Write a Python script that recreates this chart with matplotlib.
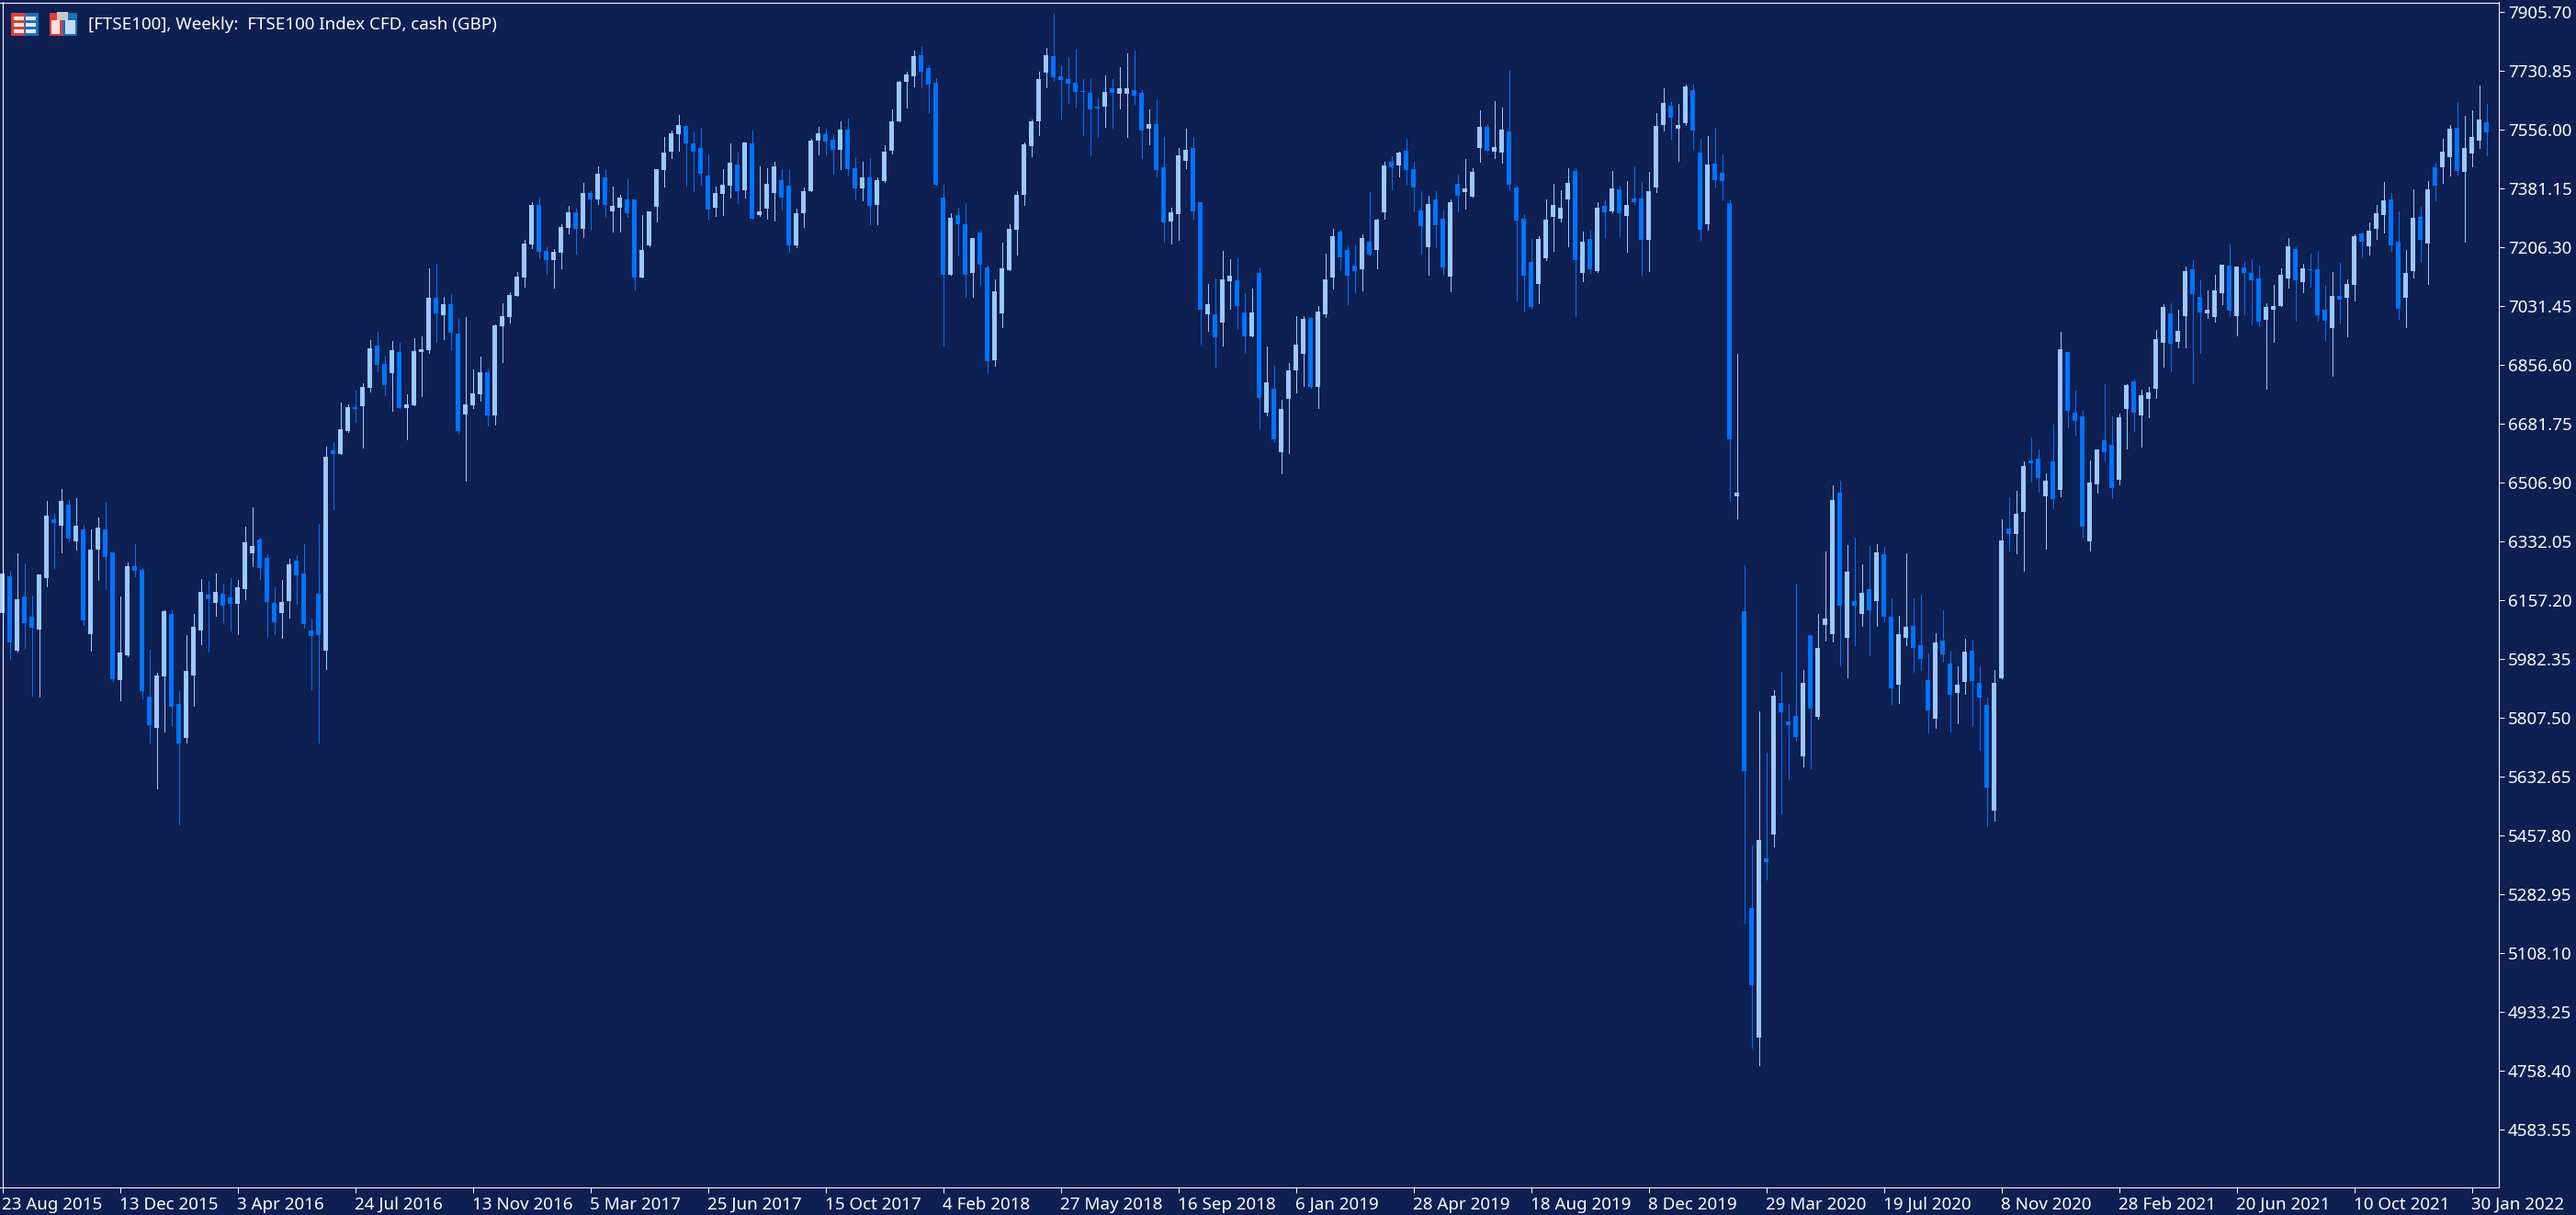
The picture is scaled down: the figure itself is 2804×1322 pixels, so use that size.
import matplotlib
matplotlib.use('Agg')
import matplotlib.pyplot as plt
from matplotlib.patches import Rectangle

# weekly FTSE100 candles, oldest first
highs = [
  6247,6245,6297,6267,6171,6234,6452,6414,6488,6455,6461,6381,6368,6403,6447,6299,6168,6269,6324,6253,6010,5941,6127,6127,5887,6053,6116,6220,6215,6237,
  6206,6223,6217,6376,6433,6343,6294,6195,6217,6280,6291,6324,6103,6384,6614,6627,6745,6739,6780,6802,6930,6955,6884,6928,6922,6769,6936,6941,7144,7158,
  7059,7067,6993,6999,6843,6881,6846,6977,7040,7073,7133,7228,7340,7354,7207,7201,7275,7329,7321,7398,7373,7447,7439,7387,7362,7409,7349,7302,7313,7439,
  7534,7554,7600,7567,7551,7562,7483,7387,7439,7515,7488,7518,7554,7447,7442,7461,7439,7436,7321,7384,7529,7565,7559,7543,7581,7589,7474,7461,7472,7414,
  7509,7616,7701,7728,7791,7802,7747,7709,7392,7307,7324,7337,7233,7255,7151,7110,7220,7274,7373,7517,7586,7728,7799,7900,7747,7772,7793,7706,7706,7649,
  7717,7707,7742,7782,7791,7673,7616,7644,7534,7323,7502,7559,7534,7340,7097,7114,7195,7171,7174,7069,7083,7146,6912,6854,6753,6862,7001,7001,6998,7032,
  7187,7261,7258,7212,7212,7244,7370,7291,7460,7477,7490,7529,7460,7373,7359,7373,7316,7348,7422,7469,7441,7613,7572,7641,7622,7731,7389,7305,7231,7239,
  7348,7395,7376,7441,7441,7253,7258,7340,7346,7433,7389,7403,7447,7400,7430,7605,7679,7641,7633,7690,7690,7529,7537,7561,7482,7346,6889,
  6261,5427,5827,5703,5889,5944,5849,6207,5950,6053,6116,6302,6498,6512,6321,6343,6264,6318,6324,6316,6163,6111,6297,6163,6174,5998,
  6059,6127,6007,5960,6042,6037,5960,5868,5950,6398,6463,6482,6569,6641,6605,6534,6679,6955,6895,6780,6720,6572,6605,6800,6704,6712,6800,6813,6783,6791,
  6961,7037,7040,7021,7149,7168,7108,7078,7125,7155,7218,7149,7163,7171,7152,7040,7095,7144,7234,7207,7157,7188,7196,7095,7133,7160,7111,7245,7250,7280,7332,7401,7368,7313,7198,7379,7327,7403,7458,7529,7570,7636,7597,7614,7687,7633,
]
body_tops = [
  6237,6228,6160,6168,6108,6234,6409,6398,6452,6441,6379,6368,6308,6373,6368,6299,6002,6258,6258,6247,5870,5933,6125,6116,5849,5947,6078,6182,6174,6182,
  6177,6166,6195,6330,6319,6338,6283,6149,6152,6264,6275,6237,6067,6177,6584,6603,6666,6731,6731,6791,6906,6914,6860,6901,6895,6739,6898,6903,7056,7056,
  7037,7037,6950,6739,6772,6835,6835,6974,7002,7064,7119,7217,7332,7332,7196,7193,7267,7310,7310,7368,7368,7425,7414,7329,7354,7349,7349,7198,7313,7439,
  7488,7545,7570,7567,7515,7502,7420,7368,7392,7458,7452,7518,7515,7313,7395,7447,7406,7390,7308,7373,7524,7545,7543,7526,7556,7556,7442,7414,7414,7406,
  7490,7580,7698,7720,7774,7777,7739,7695,7354,7293,7302,7274,7233,7250,7146,7075,7143,7261,7362,7512,7580,7706,7777,7774,7714,7706,7695,7670,7665,7624,
  7668,7679,7679,7679,7673,7665,7573,7573,7444,7311,7480,7496,7502,7340,7037,7007,7111,7121,7108,7012,7012,7129,6804,6786,6725,6840,6917,6993,6996,7015,
  7111,7239,7253,7198,7152,7234,7223,7288,7449,7460,7488,7493,7438,7316,7335,7348,7291,7340,7395,7381,7430,7564,7564,7504,7556,7550,7384,7291,7163,7231,
  7288,7332,7324,7398,7433,7223,7231,7324,7329,7381,7378,7332,7351,7351,7373,7567,7635,7627,7570,7684,7674,7488,7452,7455,7428,7337,6477,
  6124,5242,5444,5389,5873,5851,5797,5813,5912,6053,6015,6103,6454,6477,6242,6155,6180,6190,6299,6293,6108,6056,6078,6081,6023,5919,
  6032,6037,5968,5906,6004,6007,5912,5845,5912,6335,6370,6414,6556,6572,6578,6513,6569,6903,6895,6715,6704,6507,6605,6633,6619,6701,6797,6807,6766,6774,
  6933,7029,7010,6958,7136,7141,7059,7021,7078,7155,7152,7149,7147,7130,7114,7029,7032,7125,7209,7201,7144,7141,7141,7021,7062,7062,7097,7239,7248,7256,7308,7346,7349,7223,7130,7294,7297,7379,7444,7491,7559,7562,7502,7534,7586,7578,
]
body_bottoms = [
  6120,6032,6007,6089,6075,6070,6223,6387,6379,6340,6332,6097,6056,6308,6286,5922,5920,5993,6245,5887,5786,5778,5931,5840,5731,5747,5933,6067,6160,6149,
  6141,6147,6147,6190,6297,6253,6152,6092,6119,6155,6231,6087,6051,6054,6007,6592,6592,6660,6726,6734,6789,6857,6797,6832,6729,6729,6737,6895,6901,7010,
  7004,6952,6660,6709,6737,6769,6707,6707,6972,6999,7062,7116,7215,7193,7168,7168,7190,7264,7261,7261,7349,7349,7332,7313,7324,7308,7116,7116,7212,7327,
  7436,7491,7543,7515,7491,7425,7319,7324,7365,7390,7373,7376,7291,7302,7321,7368,7354,7212,7212,7308,7373,7524,7521,7496,7496,7439,7381,7381,7330,7332,
  7403,7493,7580,7698,7714,7728,7690,7392,7124,7124,7274,7124,7130,7154,6867,6870,7009,7138,7258,7362,7507,7580,7725,7711,7703,7692,7668,7668,7616,7619,
  7624,7665,7662,7662,7657,7553,7559,7436,7280,7283,7305,7463,7313,7021,7007,6938,6983,7105,7032,6941,6941,6758,6715,6635,6597,6755,6840,6889,6791,6791,
  7007,7116,7176,7122,7135,7141,7184,7198,7310,7444,7449,7436,7384,7269,7206,7272,7146,7119,7359,7370,7357,7501,7493,7490,7488,7392,7285,7122,7029,7097,
  7174,7296,7291,7348,7168,7130,7141,7135,7310,7313,7307,7299,7340,7228,7228,7384,7570,7592,7559,7575,7553,7258,7275,7406,7403,6635,6466,
  5649,5012,4856,5379,5460,5824,5785,5751,5693,5835,5810,6084,6056,6141,6046,6141,6116,6127,6155,6108,5895,5906,6046,6015,5983,5829,
  5804,5996,5876,5881,5914,5917,5868,5599,5531,5925,6354,6354,6419,6564,6521,6466,6458,6485,6720,6690,6376,6332,6501,6597,6490,6515,6725,6715,6706,6756,
  6785,6922,6920,6925,7002,7067,7013,7010,6999,7070,7018,7002,7130,7108,6985,6991,7021,7032,7114,7108,7103,7138,7004,6988,6966,7051,7056,7095,7223,7209,7261,7302,7212,7024,7056,7136,7228,7218,7390,7444,7474,7433,7431,7485,7524,7548,
]
lows = [
  6111,5982,6004,6015,5873,5870,6198,6253,6299,6332,6308,6084,6007,6217,6193,5917,5860,5991,6228,5865,5734,5597,5767,5786,5491,5734,5843,6026,6004,6111,
  6089,6067,6056,6160,6259,6220,6051,6056,6046,6106,6147,6076,5893,5734,5953,6428,6592,6658,6688,6611,6778,6838,6767,6720,6729,6636,6737,6764,6893,6925,
  6933,6903,6652,6513,6728,6750,6676,6679,6865,6982,7062,7089,7204,7174,7127,7086,7144,7248,7187,7237,7258,7335,7299,7253,7253,7297,7081,7116,7209,7283,
  7387,7472,7493,7390,7373,7392,7291,7299,7302,7354,7338,7354,7291,7299,7291,7286,7319,7193,7207,7267,7373,7483,7483,7425,7439,7420,7351,7346,7275,7275,
  7400,7485,7580,7621,7684,7681,7605,7392,6914,7124,7181,7058,7058,7094,6834,6854,6968,7138,7184,7332,7477,7539,7681,7701,7589,7635,7624,7539,7479,7534,
  7564,7562,7619,7534,7633,7471,7513,7417,7223,7217,7228,7442,7291,6920,6958,6849,6914,7023,6966,6895,6941,6668,6707,6627,6534,6594,6775,6793,6789,6728,
  6999,7083,7138,7037,7072,7078,7182,7143,7291,7378,7417,7395,7313,7187,7124,7206,7127,7075,7313,7321,7357,7460,7490,7471,7458,7378,7048,7015,7023,7040,
  7168,7195,7283,7209,7001,7105,7130,7133,7236,7310,7239,7193,7335,7124,7135,7370,7553,7529,7463,7570,7499,7228,7258,7387,7348,6452,6400,
  5199,4827,4774,5327,5425,5523,5624,5739,5663,5657,5806,6037,6034,5963,5927,6023,6081,5994,6081,6094,5849,5851,6023,5944,5950,5764,
  5777,5974,5766,5791,5878,5783,5712,5485,5502,5925,6305,6296,6244,6510,6480,6310,6431,6466,6671,6649,6346,6305,6477,6572,6460,6501,6608,6660,6613,6701,
  6758,6851,6838,6909,6909,6803,6892,6996,6985,7037,7002,6944,7007,6977,6972,6785,6925,7032,7086,6988,7073,7089,6988,6931,6824,6983,6942,7048,7177,7185,7231,7250,7196,6994,6969,7116,7163,7097,7346,7398,7420,7422,7223,7447,7502,7480,
]
# u = close above open, d = close below open
direction = (
  "u d u d d u u d u d u d u u d d u u d d d u u d d u u u d u "
  "d d u u u d d d u u d d d d u d u u d u u d d u d u u u u d "
  "u d d u u u d u u u u u u d d u u u d u d u d u u d d u u u "
  "u u u d d d d u u u d u d u u u d d u u u u d d u d d u d u "
  "u u u u u d d d d u d d u d d u u u u u u u u d d d d d d d "
  "u d u u d d u d d u u u d d u d u u d d u d u d u u u u d u "
  "u u d d d u d u u d u d d d u d d u d u u u d u u d d d d u "
  "u u u u d u d u d u d u d d u u u d u u d d u d d d u "
  "d d u d u d d d u d u u u d u d u d u d d u u d d d "
  "u d d u u d d d u u d u u d d u d u d d d u u d d u u d u u "
  "u u d u u d d u u u d u d d d u u u u d u d d d u d u u d u u u d d u u d u d u u d u u u d"
).split()

price_labels = ["7905.70","7730.85","7556.00","7381.15","7206.30","7031.45","6856.60","6681.75","6506.90","6332.05",
  "6157.20","5982.35","5807.50","5632.65","5457.80","5282.95","5108.10","4933.25","4758.40","4583.55"]
date_labels = ["23 Aug 2015","13 Dec 2015","3 Apr 2016","24 Jul 2016","13 Nov 2016","5 Mar 2017","25 Jun 2017","15 Oct 2017",
  "4 Feb 2018","27 May 2018","16 Sep 2018","6 Jan 2019","28 Apr 2019","18 Aug 2019","8 Dec 2019","29 Mar 2020",
  "19 Jul 2020","8 Nov 2020","28 Feb 2021","20 Jun 2021","10 Oct 2021","30 Jan 2022"]
title = "[FTSE100], Weekly:  FTSE100 Index CFD, cash (GBP)"

BG = "#0e1f52"
UP = "#9bc8ff"
DOWN = "#0073ff"
W, H = 2804, 1322
plt.rcParams['font.family'] = ['Noto Sans', 'DejaVu Sans']

fig = plt.figure(figsize=(W/100, H/100), dpi=100, facecolor=BG)
ax = fig.add_axes([0, (H-1292)/H, 2720/W, (1292-2.5)/H], facecolor=BG)

for i in range(len(highs)):
  col = UP if direction[i] == "u" else DOWN
  ax.vlines(i, lows[i], highs[i], color=col, lw=0.72, antialiased=False, zorder=2)
  ax.bar(i, body_tops[i]-body_bottoms[i], bottom=body_bottoms[i], width=5/8, color=col, lw=0, antialiased=False, zorder=3)

ax.set_xlim(-2.5/8, (2720-2.5)/8)
ax.set_ylim(7941.2-2.732*1292, 7941.2-2.732*2.5)

for s in ax.spines.values():
  s.set_color("white")
  s.set_linewidth(0.72)
  s.set_zorder(5)
ax.spines['left'].set_position(('axes', 2.5/2720))

ax.yaxis.tick_right()
ax.set_yticks([float(p) for p in price_labels])
ax.set_yticklabels(price_labels)
ax.set_xticks(range(0, 16*len(date_labels), 16))
ax.set_xticklabels(date_labels, ha="left")
ax.tick_params(axis="y", colors="white", length=4, width=0.72, pad=3, labelsize=13.5)
ax.tick_params(axis="x", colors="white", length=4, width=0.72, pad=3, labelsize=13.5)

ax.text(96/2720, 1-(27-2.5)/(1292-2.5), title, transform=ax.transAxes, color="white", fontsize=13.5, va="center", ha="left", zorder=6)

# the two little toolbar icons next to the title
def px_rect(x, y, w, h, color):
  fig.add_artist(Rectangle((x/W, 1-(y+h)/H), w/W, h/H, transform=fig.transFigure, facecolor=color, edgecolor="none"))

px_rect(12, 14, 15, 25, "#d9403a")
px_rect(27, 14, 15, 25, "#1e6fb5")
for y in (18, 25, 32):
  px_rect(15, y, 11, 4, "#fbe4de")
  px_rect(28, y, 11, 4, "#d9ecfb")
px_rect(54, 14, 14, 25, "#d9403a")
px_rect(56, 22, 9, 15, "#fde0d8")
px_rect(68, 14, 16, 25, "#1e6fb5")
px_rect(71, 22, 11, 15, "#bfe0fb")
px_rect(62, 13, 12, 9, "#c8c8c8")

fig.savefig("out.png", dpi=100, facecolor=BG)
